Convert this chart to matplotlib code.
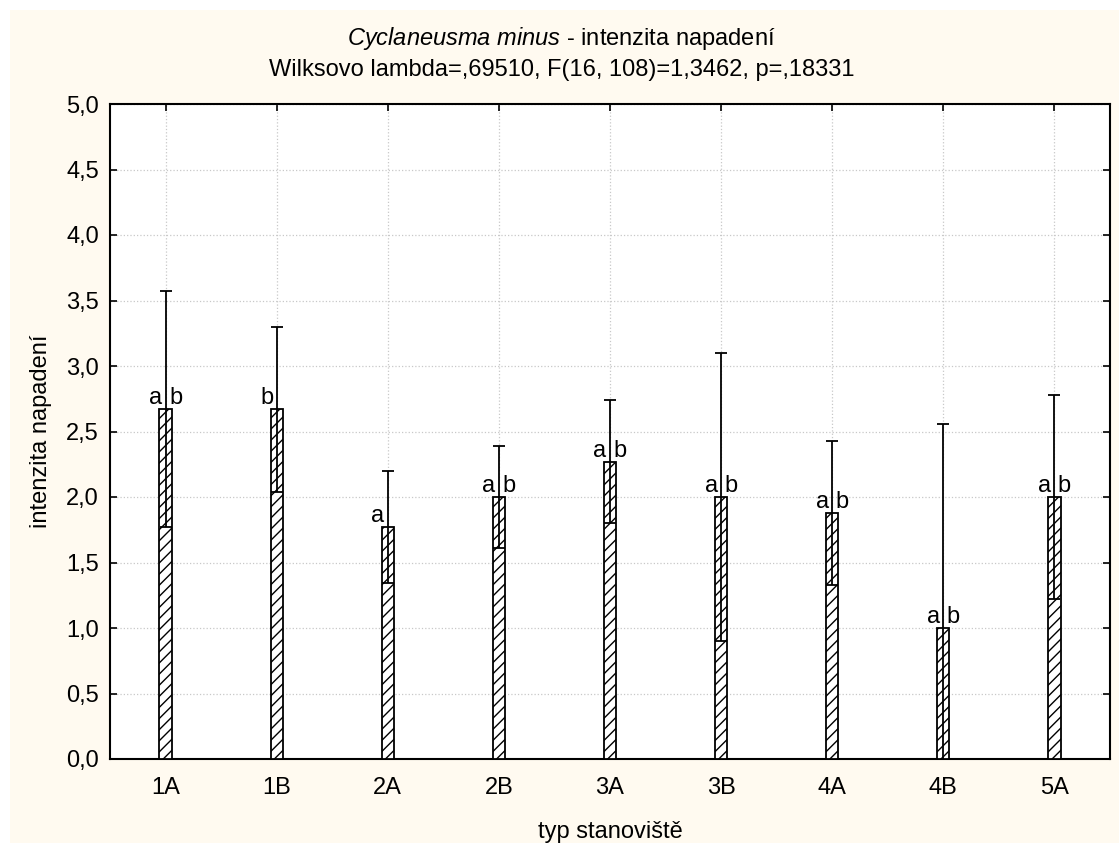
import numpy as np
import matplotlib
matplotlib.use("Agg")
import matplotlib.pyplot as plt
from matplotlib.patches import Rectangle

plt.rcParams['font.family'] = ['Liberation Sans', 'DejaVu Sans']
plt.rcParams['mathtext.fontset'] = 'custom'
plt.rcParams['mathtext.it'] = 'Liberation Sans:italic'
plt.rcParams['mathtext.rm'] = 'Liberation Sans'
plt.rcParams['hatch.linewidth'] = 1.0

# data
sites = ["1A", "1B", "2A", "2B", "3A", "3B", "4A", "4B", "5A"]
means = [2.67, 2.67, 1.77, 2.00, 2.27, 2.00, 1.875, 1.00, 2.00]
errs = [0.90, 0.63, 0.43, 0.39, 0.47, 1.10, 0.55, 1.56, 0.78]
lbl_left = ["a", "b", "a", "a", "a", "a", "a", "a", "a"]
lbl_right = ["b", "", "", "b", "b", "b", "b", "b", "b"]
yticks = [0.0, 0.5, 1.0, 1.5, 2.0, 2.5, 3.0, 3.5, 4.0, 4.5, 5.0]

W, H = 1119, 843
fig = plt.figure(figsize=(W / 100, H / 100), dpi=100)
fig.patch.set_facecolor("white")
fig.patches.append(Rectangle((10 / W, 0), 1, (H - 10) / H, transform=fig.transFigure,
                             facecolor="#FFFAF0", edgecolor="none", zorder=-10))

ax = fig.add_axes([110 / W, (H - 759) / H, 1000 / W, 655 / H])
ax.set_facecolor("white")
x = np.arange(len(sites))

ax.bar(x, means, width=0.11, color="white", edgecolor="black", hatch="///",
       linewidth=1.3, zorder=3)
ax.errorbar(x, means, yerr=errs, fmt="none", ecolor="black", elinewidth=1.3,
            capsize=4.5, capthick=1.3, zorder=4)

for i in range(len(sites)):
    ax.annotate(lbl_left[i], (x[i], means[i]), xytext=(-2.5, 0), textcoords="offset points",
                ha="right", va="bottom", fontsize=17, zorder=5)
    if lbl_right[i]:
        ax.annotate(lbl_right[i], (x[i], means[i]), xytext=(2.5, 0), textcoords="offset points",
                    ha="left", va="bottom", fontsize=17, zorder=5)

ax.set_xlim(-0.5, 8.5)
ax.set_ylim(0, 5)
ax.set_xticks(x)
ax.set_xticklabels(sites)
ax.set_yticks(yticks)
ax.set_yticklabels([f"{v:.1f}".replace(".", ",") for v in yticks])
ax.tick_params(direction="in", length=5, width=1.2, top=True, right=True, labelsize=17, pad=8)
ax.tick_params(axis="x", pad=13)
ax.grid(True, color="#c8c8c8", linestyle=":", linewidth=0.9, zorder=0)
ax.set_axisbelow(True)
for s in ax.spines.values():
    s.set_linewidth(1.5)

ax.set_xlabel("typ stanoviště", fontsize=17, labelpad=16)
ax.set_ylabel("intenzita napadení", fontsize=17, labelpad=10)

fig.text(0.502, (H - 38) / H, r"$\it{Cyclaneusma\ minus}$" + " - intenzita napadení",
         ha="center", va="center", fontsize=17)
fig.text(0.502, (H - 70) / H, "Wilksovo lambda=,69510, F(16, 108)=1,3462, p=,18331",
         ha="center", va="center", fontsize=17)

fig.savefig("out.png", dpi=100, facecolor=fig.get_facecolor())
